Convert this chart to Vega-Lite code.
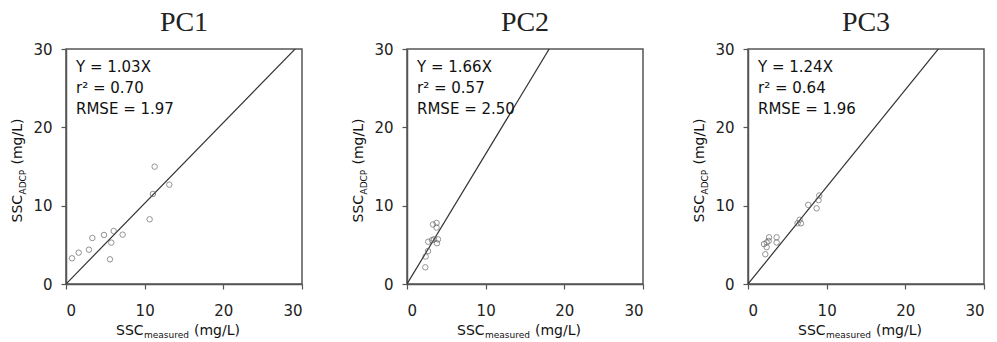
{
  "$schema": "https://vega.github.io/schema/vega-lite/v6.json",
  "padding": {"left": 10, "top": 8, "right": 5, "bottom": 0},
  "background": "white",
  "datasets": {
    "points": [
      {"panel": "PC1", "measured": 0.76, "adcp": 3.28},
      {"panel": "PC1", "measured": 1.61, "adcp": 4.0},
      {"panel": "PC1", "measured": 2.92, "adcp": 4.38},
      {"panel": "PC1", "measured": 3.35, "adcp": 5.87},
      {"panel": "PC1", "measured": 4.83, "adcp": 6.26},
      {"panel": "PC1", "measured": 5.76, "adcp": 5.28},
      {"panel": "PC1", "measured": 5.59, "adcp": 3.15},
      {"panel": "PC1", "measured": 6.06, "adcp": 6.77},
      {"panel": "PC1", "measured": 7.2, "adcp": 6.3},
      {"panel": "PC1", "measured": 10.63, "adcp": 8.26},
      {"panel": "PC1", "measured": 11.05, "adcp": 11.49},
      {"panel": "PC1", "measured": 11.27, "adcp": 14.98},
      {"panel": "PC1", "measured": 13.13, "adcp": 12.68},
      {"panel": "PC2", "measured": 2.33, "adcp": 2.13},
      {"panel": "PC2", "measured": 2.37, "adcp": 3.5},
      {"panel": "PC2", "measured": 2.67, "adcp": 4.2},
      {"panel": "PC2", "measured": 2.7, "adcp": 5.4},
      {"panel": "PC2", "measured": 3.17, "adcp": 5.6},
      {"panel": "PC2", "measured": 3.43, "adcp": 5.7},
      {"panel": "PC2", "measured": 3.94, "adcp": 5.7},
      {"panel": "PC2", "measured": 3.81, "adcp": 5.2},
      {"panel": "PC2", "measured": 3.3, "adcp": 7.6},
      {"panel": "PC2", "measured": 3.76, "adcp": 7.8},
      {"panel": "PC2", "measured": 3.76, "adcp": 7.2},
      {"panel": "PC3", "measured": 2.2, "adcp": 3.8},
      {"panel": "PC3", "measured": 2.03, "adcp": 5.1},
      {"panel": "PC3", "measured": 2.37, "adcp": 5.3},
      {"panel": "PC3", "measured": 2.67, "adcp": 5.96},
      {"panel": "PC3", "measured": 2.62, "adcp": 5.5},
      {"panel": "PC3", "measured": 2.37, "adcp": 4.7},
      {"panel": "PC3", "measured": 3.64, "adcp": 5.96},
      {"panel": "PC3", "measured": 3.64, "adcp": 5.3},
      {"panel": "PC3", "measured": 6.3, "adcp": 7.75},
      {"panel": "PC3", "measured": 6.56, "adcp": 8.2},
      {"panel": "PC3", "measured": 6.73, "adcp": 7.75},
      {"panel": "PC3", "measured": 7.66, "adcp": 10.1},
      {"panel": "PC3", "measured": 8.72, "adcp": 9.66},
      {"panel": "PC3", "measured": 8.97, "adcp": 10.7},
      {"panel": "PC3", "measured": 9.06, "adcp": 11.3}
    ],
    "fits": [
      {"panel": "PC1", "measured": 0, "adcp": 0},
      {"panel": "PC1", "measured": 30, "adcp": 30.9},
      {"panel": "PC2", "measured": 0, "adcp": 0},
      {"panel": "PC2", "measured": 30, "adcp": 49.8},
      {"panel": "PC3", "measured": 0, "adcp": 0},
      {"panel": "PC3", "measured": 30, "adcp": 37.2}
    ],
    "stats": [
      {"panel": "PC1", "lines": ["Y = 1.03X", "r² = 0.70", "RMSE = 1.97"]},
      {"panel": "PC2", "lines": ["Y = 1.66X", "r² = 0.57", "RMSE = 2.50"]},
      {"panel": "PC3", "lines": ["Y = 1.24X", "r² = 0.64", "RMSE = 1.96"]}
    ]
  },
  "hconcat": [
    {
      "width": 236, "height": 235,
      "title": {"text": "PC1"},
      "layer": [
        {
          "data": {"name": "fits"},
          "transform": [{"filter": "datum.panel === 'PC1'"}],
          "mark": {"type": "line", "clip": true, "color": "#333", "strokeWidth": 1.2},
          "encoding": {
            "x": {"field": "measured", "type": "quantitative", "title": null, "scale": {"domain": [0, 30], "nice": false},
                  "axis": {"values": [0, 5, 10, 15, 20, 25, 30], "labelExpr": "datum.value % 10 === 0 ? datum.label : ''"}},
            "y": {"field": "adcp", "type": "quantitative", "title": null, "scale": {"domain": [0, 30], "nice": false},
                  "axis": {"values": [0, 5, 10, 15, 20, 25, 30], "labelExpr": "datum.value % 10 === 0 ? datum.label : ''"}}
          }
        },
        {
          "data": {"name": "points"},
          "transform": [{"filter": "datum.panel === 'PC1'"}],
          "mark": {"type": "point", "shape": "circle", "filled": false, "color": "#666", "size": 30, "strokeWidth": 1},
          "encoding": {
            "x": {"field": "measured", "type": "quantitative", "title": null, "scale": {"domain": [0, 30], "nice": false}},
            "y": {"field": "adcp", "type": "quantitative", "title": null, "scale": {"domain": [0, 30], "nice": false}}
          }
        },
        {
          "data": {"name": "stats"},
          "transform": [{"filter": "datum.panel === 'PC1'"}],
          "mark": {"type": "text", "align": "left", "baseline": "alphabetic", "dx": 10, "dy": 23, "lineHeight": 21, "font": "DejaVu Sans", "fontSize": 15, "color": "#111"},
          "encoding": {
            "x": {"datum": 0, "type": "quantitative", "title": null, "scale": {"domain": [0, 30], "nice": false}},
            "y": {"datum": 30, "type": "quantitative", "title": null, "scale": {"domain": [0, 30], "nice": false}},
            "text": {"field": "lines"}
          }
        },
        {
          "data": {"values": [{"t": "SSC", "s": "measured", "u": "(mg/L)"}]},
          "layer": [
            {"mark": {"type": "text", "align": "left", "baseline": "alphabetic", "dx": -68, "dy": 51, "font": "DejaVu Sans", "fontSize": 14, "color": "#111"},
             "encoding": {"x": {"datum": 15, "type": "quantitative", "title": null, "scale": {"domain": [0, 30], "nice": false}},
                          "y": {"datum": 0, "type": "quantitative", "title": null, "scale": {"domain": [0, 30], "nice": false}},
                          "text": {"field": "t"}}},
            {"mark": {"type": "text", "align": "left", "baseline": "alphabetic", "dx": -40, "dy": 54, "font": "DejaVu Sans", "fontSize": 9, "color": "#111"},
             "encoding": {"x": {"datum": 15, "type": "quantitative", "title": null, "scale": {"domain": [0, 30], "nice": false}},
                          "y": {"datum": 0, "type": "quantitative", "title": null, "scale": {"domain": [0, 30], "nice": false}},
                          "text": {"field": "s"}}},
            {"mark": {"type": "text", "align": "left", "baseline": "alphabetic", "dx": 10, "dy": 51, "font": "DejaVu Sans", "fontSize": 14, "color": "#111"},
             "encoding": {"x": {"datum": 15, "type": "quantitative", "title": null, "scale": {"domain": [0, 30], "nice": false}},
                          "y": {"datum": 0, "type": "quantitative", "title": null, "scale": {"domain": [0, 30], "nice": false}},
                          "text": {"field": "u"}}}
          ]
        },
        {
          "data": {"values": [{"t": "SSC", "s": "ADCP", "u": "(mg/L)"}]},
          "layer": [
            {"mark": {"type": "text", "align": "left", "baseline": "alphabetic", "angle": 270, "dx": -56, "dy": -44, "font": "DejaVu Sans", "fontSize": 14, "color": "#111"},
             "encoding": {"x": {"datum": 0, "type": "quantitative", "title": null, "scale": {"domain": [0, 30], "nice": false}},
                          "y": {"datum": 15, "type": "quantitative", "title": null, "scale": {"domain": [0, 30], "nice": false}},
                          "text": {"field": "t"}}},
            {"mark": {"type": "text", "align": "left", "baseline": "alphabetic", "angle": 270, "dx": -28, "dy": -40, "font": "DejaVu Sans", "fontSize": 9, "color": "#111"},
             "encoding": {"x": {"datum": 0, "type": "quantitative", "title": null, "scale": {"domain": [0, 30], "nice": false}},
                          "y": {"datum": 15, "type": "quantitative", "title": null, "scale": {"domain": [0, 30], "nice": false}},
                          "text": {"field": "s"}}},
            {"mark": {"type": "text", "align": "left", "baseline": "alphabetic", "angle": 270, "dx": 2, "dy": -44, "font": "DejaVu Sans", "fontSize": 14, "color": "#111"},
             "encoding": {"x": {"datum": 0, "type": "quantitative", "title": null, "scale": {"domain": [0, 30], "nice": false}},
                          "y": {"datum": 15, "type": "quantitative", "title": null, "scale": {"domain": [0, 30], "nice": false}},
                          "text": {"field": "u"}}}
          ]
        }
      ]
    },
    {
      "width": 236, "height": 235,
      "title": {"text": "PC2"},
      "layer": [
        {
          "data": {"name": "fits"},
          "transform": [{"filter": "datum.panel === 'PC2'"}],
          "mark": {"type": "line", "clip": true, "color": "#333", "strokeWidth": 1.2},
          "encoding": {
            "x": {"field": "measured", "type": "quantitative", "title": null, "scale": {"domain": [0, 30], "nice": false},
                  "axis": {"values": [0, 5, 10, 15, 20, 25, 30], "labelExpr": "datum.value % 10 === 0 ? datum.label : ''"}},
            "y": {"field": "adcp", "type": "quantitative", "title": null, "scale": {"domain": [0, 30], "nice": false},
                  "axis": {"values": [0, 5, 10, 15, 20, 25, 30], "labelExpr": "datum.value % 10 === 0 ? datum.label : ''"}}
          }
        },
        {
          "data": {"name": "points"},
          "transform": [{"filter": "datum.panel === 'PC2'"}],
          "mark": {"type": "point", "shape": "circle", "filled": false, "color": "#666", "size": 30, "strokeWidth": 1},
          "encoding": {
            "x": {"field": "measured", "type": "quantitative", "title": null, "scale": {"domain": [0, 30], "nice": false}},
            "y": {"field": "adcp", "type": "quantitative", "title": null, "scale": {"domain": [0, 30], "nice": false}}
          }
        },
        {
          "data": {"name": "stats"},
          "transform": [{"filter": "datum.panel === 'PC2'"}],
          "mark": {"type": "text", "align": "left", "baseline": "alphabetic", "dx": 10, "dy": 23, "lineHeight": 21, "font": "DejaVu Sans", "fontSize": 15, "color": "#111"},
          "encoding": {
            "x": {"datum": 0, "type": "quantitative", "title": null, "scale": {"domain": [0, 30], "nice": false}},
            "y": {"datum": 30, "type": "quantitative", "title": null, "scale": {"domain": [0, 30], "nice": false}},
            "text": {"field": "lines"}
          }
        },
        {
          "data": {"values": [{"t": "SSC", "s": "measured", "u": "(mg/L)"}]},
          "layer": [
            {"mark": {"type": "text", "align": "left", "baseline": "alphabetic", "dx": -68, "dy": 51, "font": "DejaVu Sans", "fontSize": 14, "color": "#111"},
             "encoding": {"x": {"datum": 15, "type": "quantitative", "title": null, "scale": {"domain": [0, 30], "nice": false}},
                          "y": {"datum": 0, "type": "quantitative", "title": null, "scale": {"domain": [0, 30], "nice": false}},
                          "text": {"field": "t"}}},
            {"mark": {"type": "text", "align": "left", "baseline": "alphabetic", "dx": -40, "dy": 54, "font": "DejaVu Sans", "fontSize": 9, "color": "#111"},
             "encoding": {"x": {"datum": 15, "type": "quantitative", "title": null, "scale": {"domain": [0, 30], "nice": false}},
                          "y": {"datum": 0, "type": "quantitative", "title": null, "scale": {"domain": [0, 30], "nice": false}},
                          "text": {"field": "s"}}},
            {"mark": {"type": "text", "align": "left", "baseline": "alphabetic", "dx": 10, "dy": 51, "font": "DejaVu Sans", "fontSize": 14, "color": "#111"},
             "encoding": {"x": {"datum": 15, "type": "quantitative", "title": null, "scale": {"domain": [0, 30], "nice": false}},
                          "y": {"datum": 0, "type": "quantitative", "title": null, "scale": {"domain": [0, 30], "nice": false}},
                          "text": {"field": "u"}}}
          ]
        },
        {
          "data": {"values": [{"t": "SSC", "s": "ADCP", "u": "(mg/L)"}]},
          "layer": [
            {"mark": {"type": "text", "align": "left", "baseline": "alphabetic", "angle": 270, "dx": -56, "dy": -44, "font": "DejaVu Sans", "fontSize": 14, "color": "#111"},
             "encoding": {"x": {"datum": 0, "type": "quantitative", "title": null, "scale": {"domain": [0, 30], "nice": false}},
                          "y": {"datum": 15, "type": "quantitative", "title": null, "scale": {"domain": [0, 30], "nice": false}},
                          "text": {"field": "t"}}},
            {"mark": {"type": "text", "align": "left", "baseline": "alphabetic", "angle": 270, "dx": -28, "dy": -40, "font": "DejaVu Sans", "fontSize": 9, "color": "#111"},
             "encoding": {"x": {"datum": 0, "type": "quantitative", "title": null, "scale": {"domain": [0, 30], "nice": false}},
                          "y": {"datum": 15, "type": "quantitative", "title": null, "scale": {"domain": [0, 30], "nice": false}},
                          "text": {"field": "s"}}},
            {"mark": {"type": "text", "align": "left", "baseline": "alphabetic", "angle": 270, "dx": 2, "dy": -44, "font": "DejaVu Sans", "fontSize": 14, "color": "#111"},
             "encoding": {"x": {"datum": 0, "type": "quantitative", "title": null, "scale": {"domain": [0, 30], "nice": false}},
                          "y": {"datum": 15, "type": "quantitative", "title": null, "scale": {"domain": [0, 30], "nice": false}},
                          "text": {"field": "u"}}}
          ]
        }
      ]
    },
    {
      "width": 236, "height": 235,
      "title": {"text": "PC3"},
      "layer": [
        {
          "data": {"name": "fits"},
          "transform": [{"filter": "datum.panel === 'PC3'"}],
          "mark": {"type": "line", "clip": true, "color": "#333", "strokeWidth": 1.2},
          "encoding": {
            "x": {"field": "measured", "type": "quantitative", "title": null, "scale": {"domain": [0, 30], "nice": false},
                  "axis": {"values": [0, 5, 10, 15, 20, 25, 30], "labelExpr": "datum.value % 10 === 0 ? datum.label : ''"}},
            "y": {"field": "adcp", "type": "quantitative", "title": null, "scale": {"domain": [0, 30], "nice": false},
                  "axis": {"values": [0, 5, 10, 15, 20, 25, 30], "labelExpr": "datum.value % 10 === 0 ? datum.label : ''"}}
          }
        },
        {
          "data": {"name": "points"},
          "transform": [{"filter": "datum.panel === 'PC3'"}],
          "mark": {"type": "point", "shape": "circle", "filled": false, "color": "#666", "size": 30, "strokeWidth": 1},
          "encoding": {
            "x": {"field": "measured", "type": "quantitative", "title": null, "scale": {"domain": [0, 30], "nice": false}},
            "y": {"field": "adcp", "type": "quantitative", "title": null, "scale": {"domain": [0, 30], "nice": false}}
          }
        },
        {
          "data": {"name": "stats"},
          "transform": [{"filter": "datum.panel === 'PC3'"}],
          "mark": {"type": "text", "align": "left", "baseline": "alphabetic", "dx": 10, "dy": 23, "lineHeight": 21, "font": "DejaVu Sans", "fontSize": 15, "color": "#111"},
          "encoding": {
            "x": {"datum": 0, "type": "quantitative", "title": null, "scale": {"domain": [0, 30], "nice": false}},
            "y": {"datum": 30, "type": "quantitative", "title": null, "scale": {"domain": [0, 30], "nice": false}},
            "text": {"field": "lines"}
          }
        },
        {
          "data": {"values": [{"t": "SSC", "s": "measured", "u": "(mg/L)"}]},
          "layer": [
            {"mark": {"type": "text", "align": "left", "baseline": "alphabetic", "dx": -68, "dy": 51, "font": "DejaVu Sans", "fontSize": 14, "color": "#111"},
             "encoding": {"x": {"datum": 15, "type": "quantitative", "title": null, "scale": {"domain": [0, 30], "nice": false}},
                          "y": {"datum": 0, "type": "quantitative", "title": null, "scale": {"domain": [0, 30], "nice": false}},
                          "text": {"field": "t"}}},
            {"mark": {"type": "text", "align": "left", "baseline": "alphabetic", "dx": -40, "dy": 54, "font": "DejaVu Sans", "fontSize": 9, "color": "#111"},
             "encoding": {"x": {"datum": 15, "type": "quantitative", "title": null, "scale": {"domain": [0, 30], "nice": false}},
                          "y": {"datum": 0, "type": "quantitative", "title": null, "scale": {"domain": [0, 30], "nice": false}},
                          "text": {"field": "s"}}},
            {"mark": {"type": "text", "align": "left", "baseline": "alphabetic", "dx": 10, "dy": 51, "font": "DejaVu Sans", "fontSize": 14, "color": "#111"},
             "encoding": {"x": {"datum": 15, "type": "quantitative", "title": null, "scale": {"domain": [0, 30], "nice": false}},
                          "y": {"datum": 0, "type": "quantitative", "title": null, "scale": {"domain": [0, 30], "nice": false}},
                          "text": {"field": "u"}}}
          ]
        },
        {
          "data": {"values": [{"t": "SSC", "s": "ADCP", "u": "(mg/L)"}]},
          "layer": [
            {"mark": {"type": "text", "align": "left", "baseline": "alphabetic", "angle": 270, "dx": -56, "dy": -44, "font": "DejaVu Sans", "fontSize": 14, "color": "#111"},
             "encoding": {"x": {"datum": 0, "type": "quantitative", "title": null, "scale": {"domain": [0, 30], "nice": false}},
                          "y": {"datum": 15, "type": "quantitative", "title": null, "scale": {"domain": [0, 30], "nice": false}},
                          "text": {"field": "t"}}},
            {"mark": {"type": "text", "align": "left", "baseline": "alphabetic", "angle": 270, "dx": -28, "dy": -40, "font": "DejaVu Sans", "fontSize": 9, "color": "#111"},
             "encoding": {"x": {"datum": 0, "type": "quantitative", "title": null, "scale": {"domain": [0, 30], "nice": false}},
                          "y": {"datum": 15, "type": "quantitative", "title": null, "scale": {"domain": [0, 30], "nice": false}},
                          "text": {"field": "s"}}},
            {"mark": {"type": "text", "align": "left", "baseline": "alphabetic", "angle": 270, "dx": 2, "dy": -44, "font": "DejaVu Sans", "fontSize": 14, "color": "#111"},
             "encoding": {"x": {"datum": 0, "type": "quantitative", "title": null, "scale": {"domain": [0, 30], "nice": false}},
                          "y": {"datum": 15, "type": "quantitative", "title": null, "scale": {"domain": [0, 30], "nice": false}},
                          "text": {"field": "u"}}}
          ]
        }
      ]
    }
  ],
  "spacing": 105,
  "bounds": "flush",
  "config": {
    "view": {"stroke": "#555", "strokeWidth": 1.5},
    "axis": {
      "grid": false,
      "domainColor": "#555",
      "domainWidth": 1.5,
      "tickColor": "#555",
      "tickWidth": 1.2,
      "tickSize": 5,
      "labelFont": "DejaVu Sans",
      "labelFontSize": 15,
      "labelColor": "#222"
    },
    "axisY": {"labelPadding": 9},
    "axisX": {"labelPadding": 14},
    "title": {"font": "Liberation Serif", "fontSize": 28, "fontWeight": "normal", "color": "#222", "offset": 5}
  }
}
